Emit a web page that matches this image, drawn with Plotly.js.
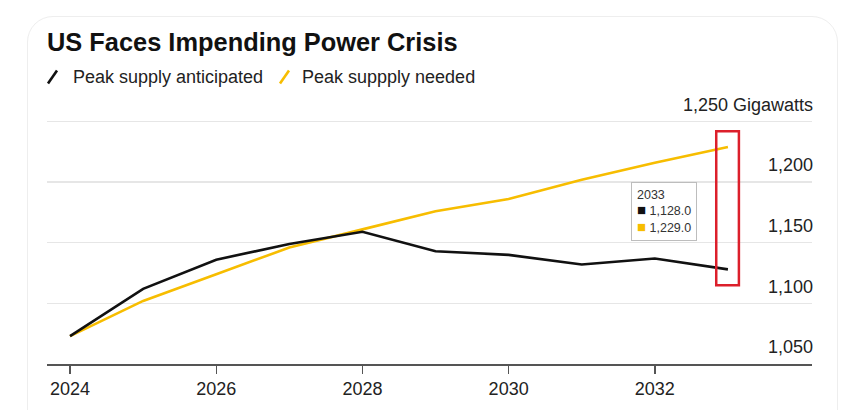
<!DOCTYPE html>
<html>
<head>
<meta charset="utf-8">
<script src="https://cdn.plot.ly/plotly-3.0.1.min.js"></script>
<style>
  html, body { margin: 0; padding: 0; background: #ffffff; overflow: hidden; }
  #card { position: absolute; left: 27px; top: 16px; width: 811px; height: 440px;
          border: 1.5px solid #eeeeee; border-radius: 26px; box-sizing: border-box; }
  #chart { position: absolute; left: 0; top: 0; width: 864px; height: 410px; }
</style>
</head>
<body>
<div id="card"></div>
<div id="chart"></div>
<script>
// ---- data ----
const years = [2024, 2025, 2026, 2027, 2028, 2029, 2030, 2031, 2032, 2033];
const supplyAnticipated = [1073, 1112, 1136, 1149, 1159, 1143, 1140, 1132, 1137, 1128];
const supplyNeeded = [1073, 1102, 1124, 1146, 1161, 1176, 1186, 1202, 1216, 1229];
const seriesNames = ["Peak supply anticipated", "Peak suppply needed"];
const xTickVals = [2024, 2026, 2028, 2030, 2032];
const yTickVals = [1050, 1100, 1150, 1200, 1250];
const yTickText = ["1,050", "1,100", "1,150", "1,200", "1,250 Gigawatts"];
const titleText = "US Faces Impending Power Crisis";

// ---- styling ----
const FONT = "Liberation Sans, Arial, Helvetica, sans-serif";
const BLACK = "#111111";
const YELLOW = "#f7bd00";
const RED = "#dc1f2b";

const fmt = v => v.toLocaleString("en-US", {minimumFractionDigits: 1, maximumFractionDigits: 1});
const lastIdx = years.length - 1;
const lastYear = years[lastIdx];

const traces = [
  { x: years, y: supplyNeeded, type: "scatter", mode: "lines", name: seriesNames[1],
    line: { color: YELLOW, width: 2.6 }, hoverinfo: "skip" },
  { x: years, y: supplyAnticipated, type: "scatter", mode: "lines", name: seriesNames[0],
    line: { color: BLACK, width: 2.6 }, hoverinfo: "skip" }
];

// plot area geometry (pixels) for paper-coordinate helpers
const L = 47, R = 812, B = 364, T = 118.6;
const px = x => (x - L) / (R - L);
const py = y => (B - y) / (B - T);

const layout = {
  width: 864, height: 410,
  margin: { l: L, r: 864 - R, t: T, b: 410 - B },
  paper_bgcolor: "rgba(0,0,0,0)",
  plot_bgcolor: "rgba(0,0,0,0)",
  showlegend: false,
  font: { family: FONT, color: "#222222", size: 18 },
  title: { text: "<b>" + titleText + "</b>", xref: "container", yref: "container",
           x: 47 / 864, xanchor: "left", y: 1 - 42 / 410, yanchor: "middle",
           font: { family: FONT, size: 25.4, color: "#111111" } },
  xaxis: {
    range: [2023.685, 2034.15], tickvals: xTickVals, ticktext: xTickVals.map(String),
    showgrid: false, zeroline: false, showline: true, linecolor: "#555555", linewidth: 1.6,
    ticks: "outside", ticklen: 8, tickwidth: 1.4, tickcolor: "#555555",
    tickfont: { family: FONT, size: 18, color: "#222222" }, fixedrange: true
  },
  yaxis: {
    range: [1050, 1252], tickvals: yTickVals, ticktext: yTickText, side: "right",
    ticklabelposition: "inside", ticklabeloverflow: "allow", ticklabelshift: -17,
    ticklabelstandoff: -4,
    showgrid: true, gridcolor: "#e6e6e6", gridwidth: 1.5, zeroline: false, showline: false,
    ticks: "", tickfont: { family: FONT, size: 18, color: "#222222" }, fixedrange: true
  },
  shapes: [
    // legend slashes
    { type: "line", xref: "paper", yref: "paper", x0: px(48), y0: py(83), x1: px(57), y1: py(70),
      line: { color: BLACK, width: 2.6 } },
    { type: "line", xref: "paper", yref: "paper", x0: px(280), y0: py(83), x1: px(289), y1: py(70),
      line: { color: YELLOW, width: 2.6 } },
    // red highlight box around last year
    { type: "rect", xref: "x", yref: "y", x0: lastYear - 0.16, x1: lastYear + 0.15,
      y0: 1115, y1: 1242, line: { color: RED, width: 2.5 }, fillcolor: "rgba(0,0,0,0)" }
  ],
  annotations: [
    { xref: "paper", yref: "paper", x: px(71), y: py(77), xanchor: "left", yanchor: "middle",
      text: seriesNames[0], showarrow: false, font: { family: FONT, size: 18, color: "#222222" } },
    { xref: "paper", yref: "paper", x: px(300), y: py(77), xanchor: "left", yanchor: "middle",
      text: seriesNames[1], showarrow: false, font: { family: FONT, size: 18, color: "#222222" } },
    { xref: "x", yref: "y", x: 2031.67, y: 1199.8, xanchor: "left", yanchor: "top",
      align: "left", showarrow: false, bgcolor: "#ffffff", bordercolor: "#bdbdbd",
      borderwidth: 1, borderpad: 5,
      text: String(lastYear) +
            "<br><span style='color:" + BLACK + ";font-size:15px'>■</span> " + fmt(supplyAnticipated[lastIdx]) +
            "<br><span style='color:" + YELLOW + ";font-size:15px'>■</span> " + fmt(supplyNeeded[lastIdx]),
      font: { family: FONT, size: 12.5, color: "#333333" } }
  ]
};

Plotly.newPlot("chart", traces, layout, { displayModeBar: false, staticPlot: true });
</script>
</body>
</html>
